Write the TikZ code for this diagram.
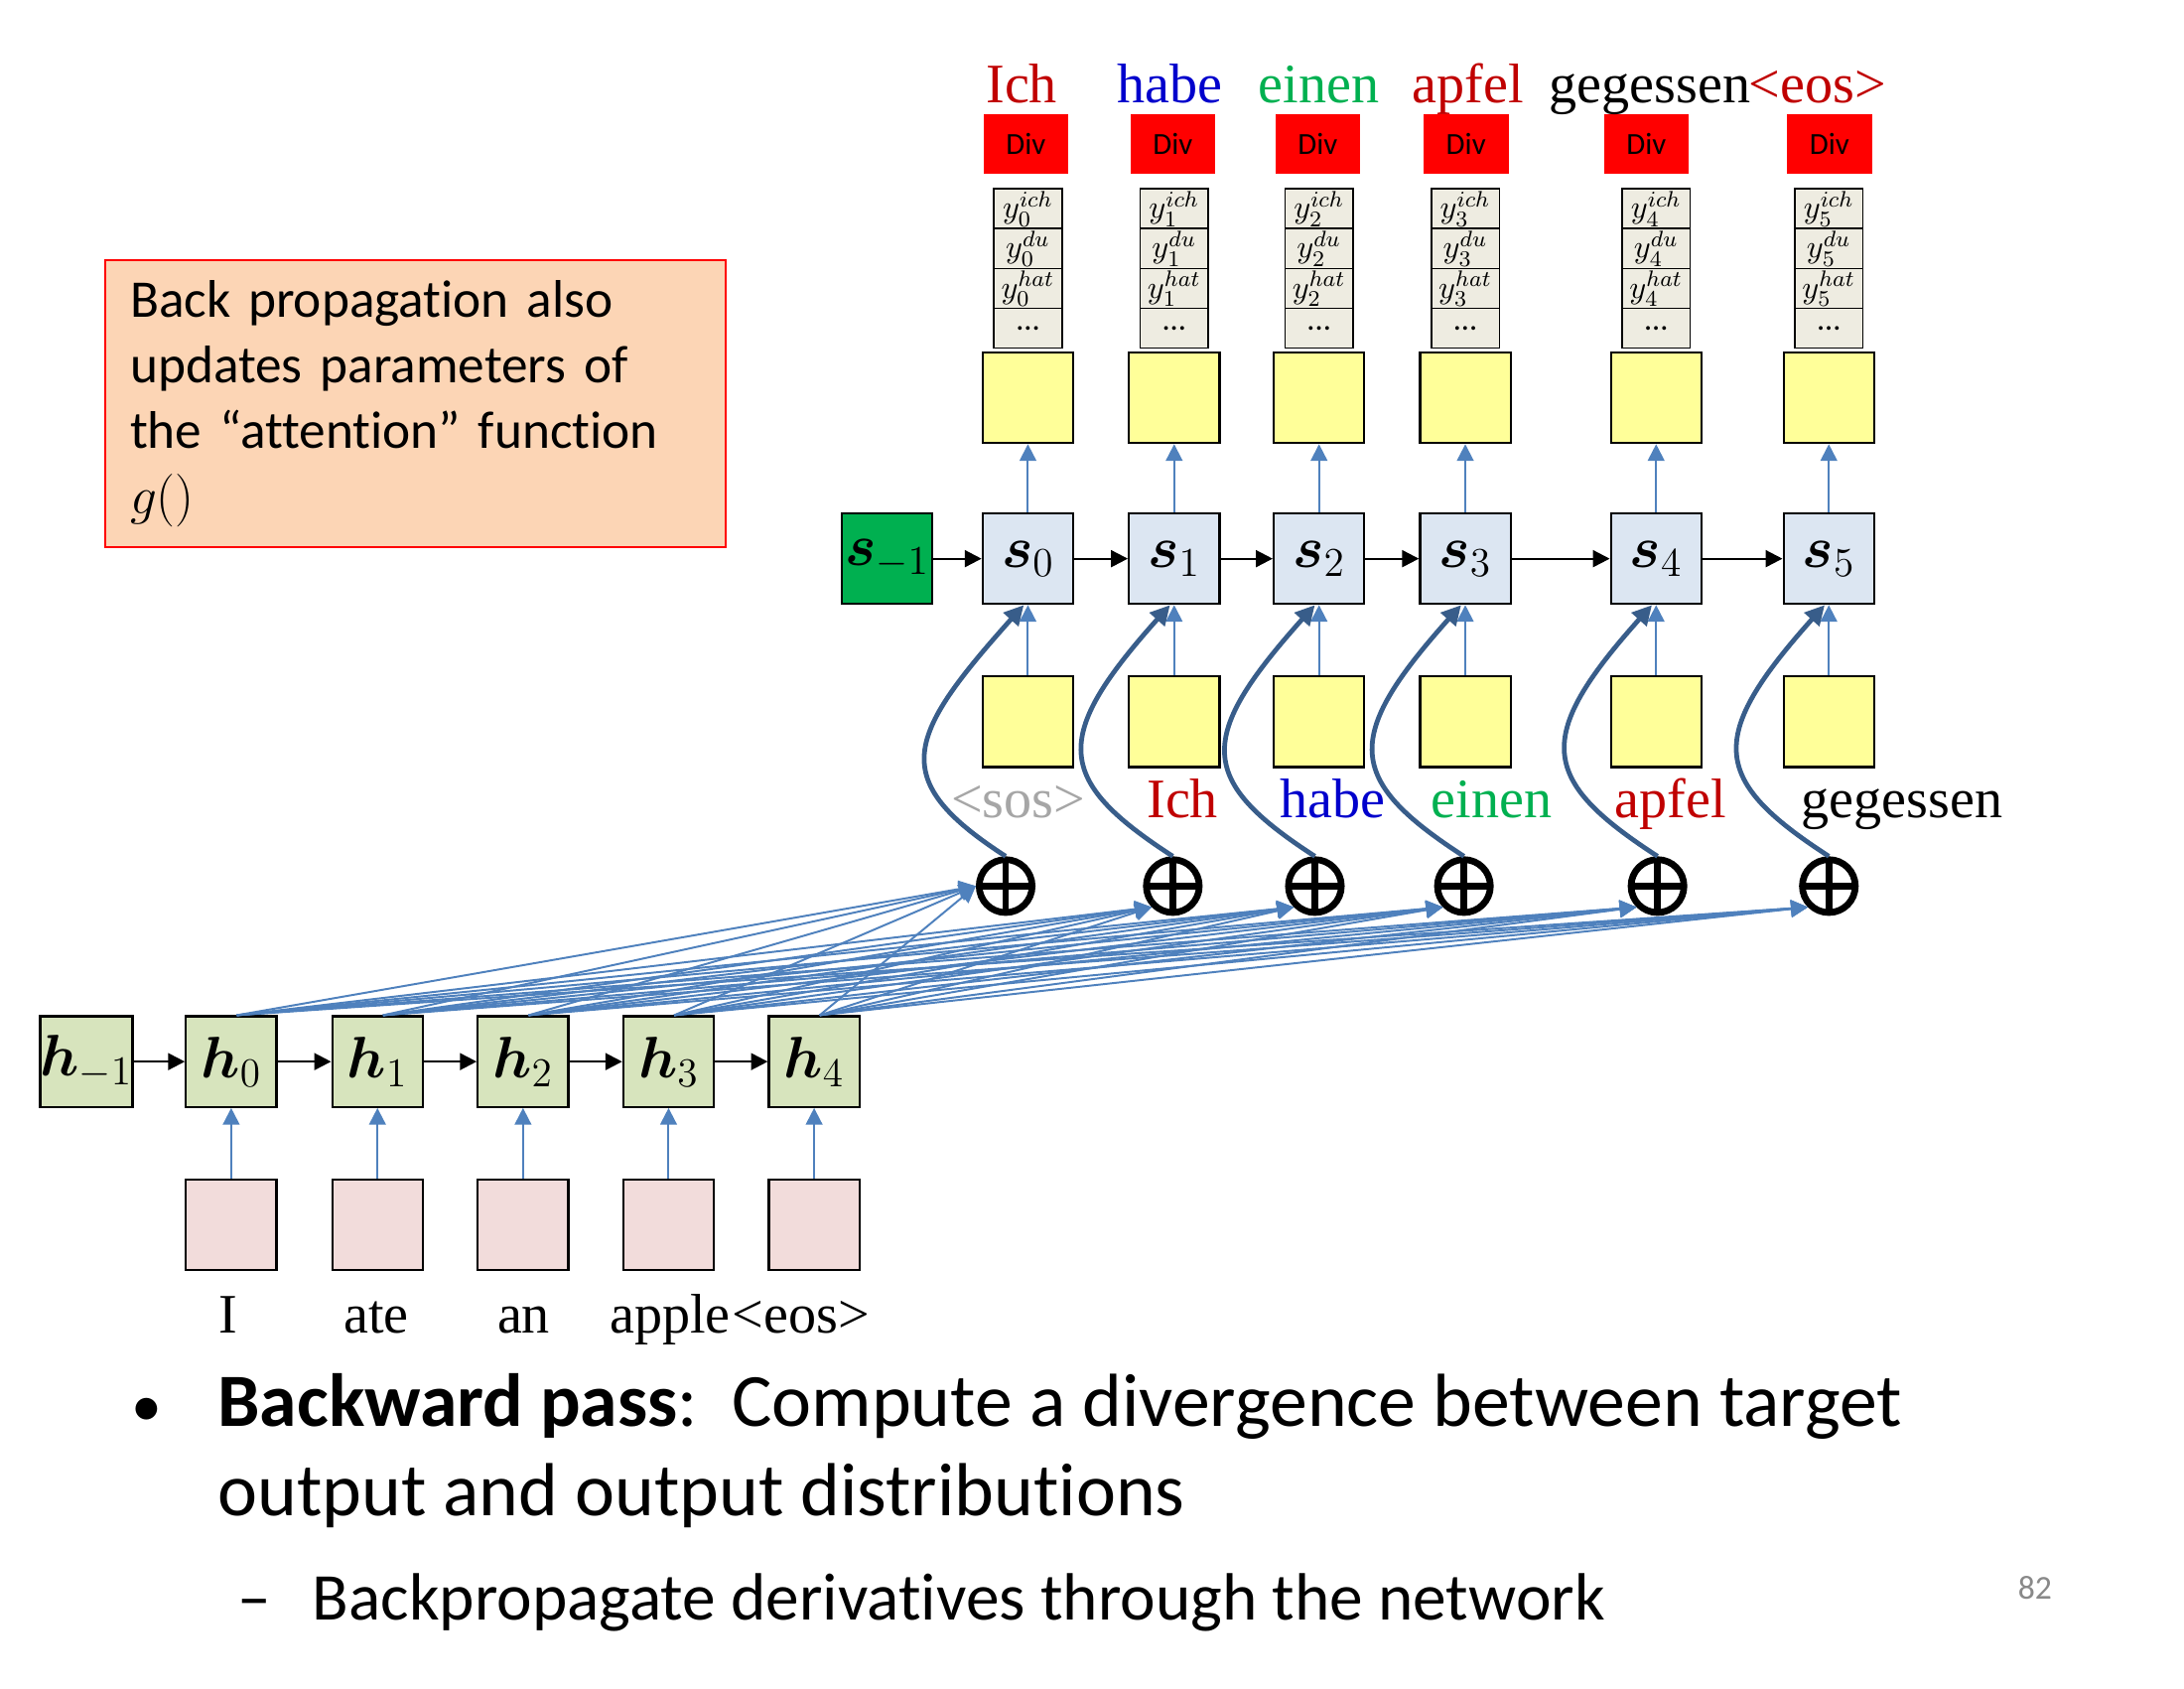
\RequirePackage{fix-cm}
\documentclass[tikz,border=0pt]{standalone}
\usepackage{amsmath}
\usepackage{bm}
\usepackage{fontspec}
\setmainfont{Carlito}[Ligatures={TeX,NoCommon}]
\newfontfamily\serifwords{Liberation Serif}
\usetikzlibrary{arrows.meta, calc}
\definecolor{linkblue}{RGB}{79,129,189}
\definecolor{ctxblue}{RGB}{56,93,138}
\definecolor{wordred}{RGB}{192,0,0}
\definecolor{wordblue}{RGB}{0,0,204}
\definecolor{wordgreen}{RGB}{0,176,80}
\definecolor{sosgray}{RGB}{166,166,166}
\definecolor{divred}{RGB}{255,0,0}
\definecolor{decfill}{RGB}{220,230,242}
\definecolor{encfill}{RGB}{215,228,189}
\definecolor{embfill}{RGB}{242,220,219}
\definecolor{outfill}{RGB}{255,255,153}
\definecolor{probfill}{RGB}{238,236,225}
\definecolor{notefill}{RGB}{252,213,181}
\definecolor{pagegray}{RGB}{137,137,137}

\begin{document}
\begin{tikzpicture}[x=0.5pt, y=-0.5pt,
    cell/.style={draw=black, line width=0.8pt, minimum width=32.5pt, minimum height=32.5pt,
      inner sep=0pt, font=\fontsize{21}{25}\selectfont},
    enc/.style={cell, fill=encfill},
    dec/.style={cell, fill=decfill},
    lay/.style={cell, fill=outfill},
    emb/.style={cell, fill=embfill},
    divbox/.style={fill=divred, minimum width=30.5pt, minimum height=21.5pt, inner sep=0pt,
      font=\fontsize{11}{12}\selectfont},
    prob/.style={draw=black, line width=0.6pt, fill=probfill, minimum width=24.5pt,
      minimum height=14.3pt, inner sep=0pt, font=\fontsize{11.5}{13}\selectfont},
    word/.style={anchor=base, inner sep=0pt, font=\serifwords\fontsize{20}{24}\selectfont},
    feed/.style={linkblue, line width=0.7pt, -{Triangle[length=6pt, width=6pt]}},
    rec/.style={black, line width=0.8pt, -{Triangle[length=6pt, width=6pt]}},
    ctx/.style={ctxblue, line width=1.7pt, -{Triangle[length=7pt, width=7pt]}},
    plus/.style={circle, draw=black, line width=2.4pt, minimum size=19pt, inner sep=0pt,
      path picture={\draw[line width=2.4pt]
        (path picture bounding box.north) -- (path picture bounding box.south)
        (path picture bounding box.west) -- (path picture bounding box.east);}}
  ]
  \useasboundingbox (0,0) rectangle (1568,1212);

  % note box
  \node[draw=divred, line width=0.8pt, fill=notefill, anchor=north west,
    minimum width=222.5pt, minimum height=103pt, text width=205pt, inner xsep=8.8pt,
    align=left, font=\fontsize{19}{23.5}\selectfont] (note) at (75,186)
    {Back propagation also\\updates parameters of\\the ``attention'' function\\$g()$};

  % encoder
  \node[enc] (hm) at (62,762) {$\bm{h}_{-1}$};
  \foreach \x [count=\i from 0] in {166,271,375.5,480,584.5} {
    \node[enc] (h\i) at (\x,762) {$\bm{h}_{\i}$};
    \node[emb] (e\i) at (\x,879) {};
    \draw[feed] (e\i) -- (h\i);
  }
  \draw[rec] (hm) -- (h0);
  \foreach \a/\b in {0/1,1/2,2/3,3/4}
    \draw[rec] (h\a) -- (h\b);
  \foreach \x/\w [count=\i from 0] in {163.5/I, 270/ate, 376/an, 481/apple, 575/{<eos>}}
    \node[word] (src\i) at (\x,957) {\w};

  % decoder columns: s x / plus x / div x
  \node[dec, fill=wordgreen] (sm) at (637,401) {$\bm{s}_{-1}$};
  \foreach \x/\px/\dx [count=\j from 0] in
      {738/722/736.5, 843/842/842, 947/944/946, 1052/1051/1052.5, 1189/1190/1182, 1313/1313/1313.5} {
    \node[dec] (s\j) at (\x,401) {$\bm{s}_{\j}$};
    \node[lay] (in\j) at (\x,518) {};
    \node[lay] (out\j) at (\x,285.5) {};
    \node[plus] (p\j) at (\px,636) {};
    \node[divbox] (div\j) at (\dx,103.5) {Div};
    \node[prob] (ich\j) at (\x,149.8) {$y_{\j}^{ich}$};
    \node[prob] (du\j) at (\x,178.4) {$y_{\j}^{du}$};
    \node[prob] (hat\j) at (\x,207) {$y_{\j}^{hat}$};
    \node[prob] (dots\j) at (\x,235.6) {...};
    \draw[feed] (in\j) -- (s\j);
    \draw[feed] (s\j) -- (out\j);
  }
  \draw[rec] (sm) -- (s0);
  \foreach \a/\b in {0/1,1/2,2/3,3/4,4/5}
    \draw[rec] (s\a) -- (s\b);

  % target and previous words
  \foreach \x/\w/\c [count=\j from 0] in {733.5/Ich/wordred, 840/habe/wordblue,
      947/einen/wordgreen, 1054/apfel/wordred, 1184.5/gegessen/black, 1305/{<eos>}/wordred}
    \node[word, text=\c] (tgt\j) at (\x,74) {\w};
  \foreach \x/\w/\c [count=\j from 0] in {731/{<sos>}/sosgray, 849/Ich/wordred,
      956.5/habe/wordblue, 1071/einen/wordgreen, 1199.5/apfel/wordred, 1365.5/gegessen/black}
    \node[word, text=\c] (prev\j) at (\x,587) {\w};

  % attention
  \foreach \i in {0,...,4} {
    \draw[feed] ([xshift=2pt]h\i.north) -- (p0.west);
    \foreach \j in {1,...,5}
      \draw[feed] ([xshift=2pt]h\i.north) -- (p\j.225);
  }
  \foreach \j in {0,...,5}
    \draw[ctx] (p\j.north) .. controls +(-85,-55) and +(-85,95) .. ([xshift=-1.5pt]s\j.south);

  % slide text
  \node[anchor=base west, inner sep=0pt, font=\fontsize{27}{32}\selectfont] (pass1) at (94,1024)
    {\hbox to 31pt{\fontsize{22}{26}\selectfont•\hfil}\textbf{Backward pass}:\ \ Compute a divergence between target};
  \node[anchor=base west, inner sep=0pt, font=\fontsize{27}{32}\selectfont] (pass2) at (156,1088)
    {output and output distributions};
  \node[anchor=base west, inner sep=0pt, font=\fontsize{24}{29}\selectfont] (sub) at (170,1163)
    {\hbox to 27pt{–\hfil}Backpropagate derivatives through the network};
  \node[anchor=base, inner sep=0pt, text=pagegray, font=\fontsize{12}{14}\selectfont] (pagenum)
    at (1461,1148) {82};
\end{tikzpicture}
\end{document}
